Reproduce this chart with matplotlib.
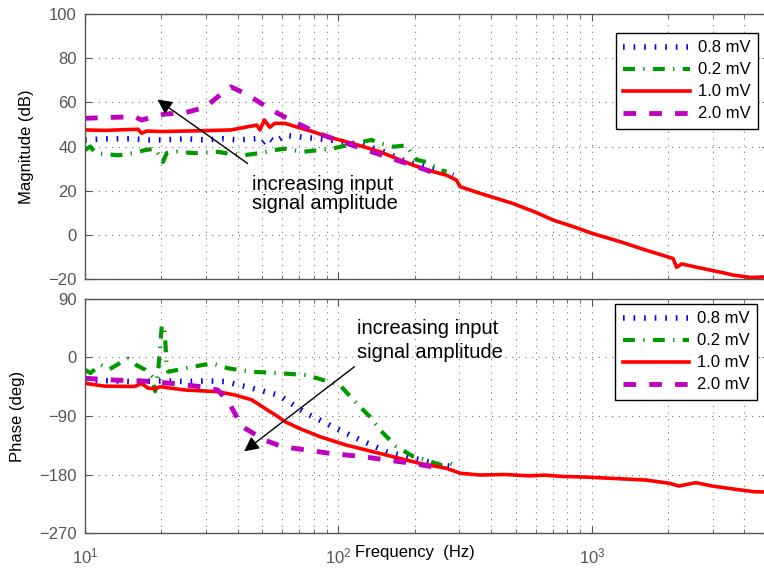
import matplotlib
matplotlib.use("Agg")
import matplotlib.pyplot as plt
from matplotlib.ticker import LogLocator, NullFormatter, MultipleLocator

plt.rcParams["font.family"] = ["Liberation Sans", "DejaVu Sans"]

labels = ["0.8 mV", "0.2 mV", "1.0 mV", "2.0 mV"]

# magnitude (dB)
f_mag_08 = [10, 12, 15, 18, 20, 25, 30, 35, 40, 47, 50, 53, 56, 62, 70, 92, 120, 146, 186, 222, 284]
mag_08 = [43, 43.5, 43.5, 43, 43, 43.5, 43, 43.5, 43, 43.5, 41.5, 44, 42, 45, 44.4, 43, 41, 38.4, 33, 30.9, 27]

f_mag_02 = [10, 10.5, 11, 13.5, 15.5, 17.3, 18.9, 20.3, 21, 23, 27.2, 33.4, 38, 42.7, 48, 56, 61.5,
            72.5, 95, 125, 135, 146, 165, 185, 203, 222, 252, 267]
mag_02 = [38.4, 40, 37, 36, 37, 38.4, 39, 33, 37, 37.6, 37, 37.6, 36.5, 36.1, 36.9, 38.4, 39,
          37.6, 39.1, 42.2, 43, 41.4, 39.9, 40.5, 34, 33, 29.3, 28.6]

f_mag_10 = [10, 12, 14, 16.2, 16.7, 17.5, 20, 25, 30, 37.7, 42.7, 47.6, 49, 51, 53.6, 56, 61.5, 70,
            79.4, 90, 107, 125, 146, 170, 197, 230, 267, 292, 302, 362, 488, 600, 703, 850, 1000,
            1300, 1630, 2090, 2160, 2260, 2830, 3300, 3600, 4220, 5000]
mag_10 = [47.5, 47.3, 47.6, 47.8, 46.0, 47.0, 46.8, 47, 47.2, 47.5, 48.7, 49.7, 47.5, 52, 48.7, 50.5, 50.5, 48.5,
          46.7, 44.5, 42.2, 40, 37.6, 34.5, 31.6, 29, 27, 24.8, 21.8, 18.8, 14.2, 10.2, 6.7, 3.6, 0.7,
          -3.2, -6.9, -10.7, -14.7, -13.2, -15.6, -17.2, -18.2, -19.3, -19]

f_mag_20 = [10, 15.7, 16.7, 20.7, 24.8, 29.7, 33.4, 37.7, 44, 54.5, 64.6, 83, 103, 129, 162, 203, 252]
mag_20 = [52.8, 53.5, 52, 54.7, 55.3, 57.7, 62.5, 67, 63.3, 56.5, 52, 46, 42.2, 38.4, 34.6, 30.9, 27.1]

# phase (deg)
f_ph_08 = [10, 15, 20, 25, 30, 35.6, 45.4, 57.7, 60.6, 74.7, 95, 122, 155, 198, 252, 284]
ph_08 = [-34.6, -37, -36, -37, -36, -37, -47, -57.7, -62.8, -86, -106.5, -127, -145, -155, -165, -168]

f_ph_02 = [10, 10.5, 11.5, 12.5, 13.8, 14.8, 16, 17.3, 18.5, 18.9, 19.4, 20.1, 20.6, 21, 21.3, 24.8, 31.6,
           36.7, 45.4, 57.7, 74.7, 87, 101, 118, 133, 146, 169, 198, 222, 252, 275, 285]
ph_02 = [-19, -24, -11, -18, -8, -2, -12, -19, -30, -52, -25, 50, 45, -15, -22, -16.6, -9,
         -16.6, -22, -24, -27, -34.6, -42, -70.6, -91, -111.5, -137, -152.6, -157.7, -165.4, -163, -165]

f_ph_10 = [10, 11.9, 15.7, 16.7, 17.7, 18.9, 19.8, 24.8, 33.4, 39, 45.4, 51, 57.7, 61.5, 70, 84.5, 107,
           137, 164, 210, 267, 302, 362, 450, 566, 650, 768, 953, 1210, 1630, 2030, 2200, 2570, 2980,
           3720, 4380, 5000]
ph_10 = [-39.7, -44, -44.6, -40, -47, -48, -45, -50, -52.6, -57.7, -65, -77.7, -91, -98.7, -109, -121.8, -134.6,
         -145, -152.6, -163, -170.5, -178, -180.8, -180, -182, -181, -183, -184, -186, -188.5, -193.6, -197.7,
         -192.6, -197.7, -203, -206.5, -207]

f_ph_20 = [10, 13.5, 16.7, 21.9, 28.8, 33.4, 36.7, 38.4, 41.5, 51.2, 59.7, 92.6, 125, 155, 198, 252]
ph_20 = [-32, -35, -36, -39.7, -45, -50, -68, -81, -106, -127, -137, -147.5, -152.6, -157.7, -163, -170.5]

styles = [
    dict(color="#0000ff", lw=4.0, ls=(0, (0.3, 1.6))),
    dict(color="#009900", lw=3.0, ls=(0, (2.86, 2.0, 0.31, 2.0))),
    dict(color="#ff0000", lw=2.6, ls="-"),
    dict(color="#bf00bf", lw=3.5, ls=(0, (2.6, 2.7))),
]

fig = plt.figure(figsize=(7.64, 5.68), dpi=100)
ax1 = fig.add_axes([0.1113, 0.5088, 0.8953, 0.4665])
ax2 = fig.add_axes([0.1113, 0.0616, 0.8953, 0.412])

mag = [(f_mag_08, mag_08), (f_mag_02, mag_02), (f_mag_10, mag_10), (f_mag_20, mag_20)]
ph = [(f_ph_08, ph_08), (f_ph_02, ph_02), (f_ph_10, ph_10), (f_ph_20, ph_20)]

for (f, v), st, lab in zip(mag, styles, labels):
    ax1.plot(f, v, label=lab, **st)
for (f, v), st, lab in zip(ph, styles, labels):
    ax2.plot(f, v, label=lab, **st)

for ax in (ax1, ax2):
    ax.set_xscale("log")
    ax.set_xlim(10, 5000)
    ax.xaxis.set_major_locator(LogLocator(base=10))
    ax.xaxis.set_minor_locator(LogLocator(base=10, subs=range(2, 10)))
    ax.xaxis.set_minor_formatter(NullFormatter())
    ax.grid(True, which="major", ls=(0, (1, 5)), lw=0.8, color="#777777")
    ax.xaxis.grid(True, which="minor", ls=(0, (1, 5)), lw=0.8, color="#777777")
    ax.tick_params(which="both", direction="in", top=True, right=True, colors="#555555",
                   labelsize=12, pad=6)
    ax.tick_params(axis="x", which="major", pad=10)
    ax.tick_params(which="major", length=5)
    ax.tick_params(which="minor", length=3)
    for s in ax.spines.values():
        s.set_color("#555555")
        s.set_linewidth(1.0)
    leg = ax.legend(loc="upper right", fontsize=12, handlelength=4.0, handletextpad=0.45,
                    labelspacing=0.42, borderpad=0.45, borderaxespad=0, fancybox=False,
                    framealpha=1, edgecolor="black")
    leg.get_frame().set_linewidth(1.0)

ax1.set_ylim(-20, 100)
ax1.yaxis.set_major_locator(MultipleLocator(20))
ax1.tick_params(labelbottom=False)
ax1.set_ylabel("Magnitude (dB)", fontsize=12, labelpad=10)
ax1.get_legend().set_bbox_to_anchor((0.9835, 0.929))

ax2.set_ylim(-270, 90)
ax2.yaxis.set_major_locator(MultipleLocator(90))
ax2.set_ylabel("Phase (deg)", fontsize=12, labelpad=10)
ax2.get_legend().set_bbox_to_anchor((0.9825, 0.979))

ax1.text(45.4, 18.5, "increasing input\nsignal amplitude", fontsize=14.5, ha="left", va="center",
         linespacing=1.05)
ax1.annotate("", xy=(18.9, 62), xytext=(44.7, 31.6),
             arrowprops=dict(arrowstyle="-|>", lw=1, color="black", mutation_scale=22))

ax2.text(118, 26, "increasing input\nsignal amplitude", fontsize=14.5, ha="left", va="center",
         linespacing=1.3)
ax2.annotate("", xy=(41.6, -147), xytext=(118, -11.5),
             arrowprops=dict(arrowstyle="-|>", lw=1, color="black", mutation_scale=22))

fig.text(355 / 764, 1 - 552 / 568, "Frequency  (Hz)", fontsize=12, ha="left", va="center")

fig.savefig("out.png", dpi=100)
